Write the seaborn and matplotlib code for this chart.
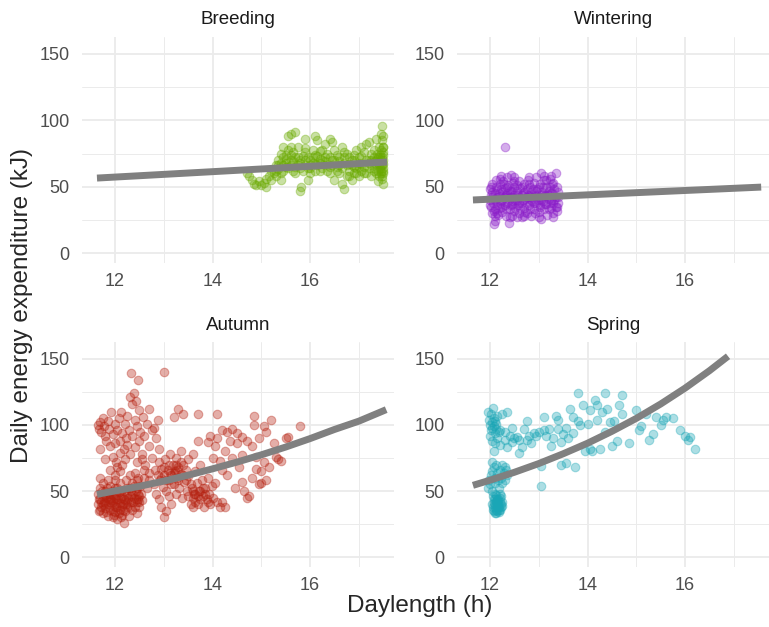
import numpy as np
import pandas as pd
import matplotlib
matplotlib.use("Agg")
import matplotlib.pyplot as plt
from matplotlib.ticker import MultipleLocator
import seaborn as sns

# ---- data ----
seasons = ["Breeding", "Wintering", "Autumn", "Spring"]
season_colors = ["#6AAA00", "#8A1CC8", "#B5200F", "#1AA6B6"]

breeding_pts = [
    (14.7, 60), (14.75, 58), (14.8, 55), (14.85, 52), (14.9, 51), (14.95, 54), (15.0, 51), (15.05, 53),
    (15.1, 50), (15.1, 56), (15.15, 58), (15.2, 62), (15.2, 55), (15.25, 60), (15.3, 66), (15.3, 58),
    (15.35, 70), (15.35, 63), (15.4, 75), (15.4, 68), (15.45, 80), (15.45, 72), (15.5, 74), (15.5, 65),
    (15.55, 88), (15.55, 78), (15.6, 90), (15.6, 70), (15.65, 76), (15.65, 62), (15.7, 91), (15.7, 72),
    (15.75, 80), (15.75, 66), (15.8, 68), (15.8, 47), (15.82, 50), (15.85, 73), (15.9, 79), (15.9, 86),
    (15.95, 64), (15.95, 55), (16.0, 70), (16.0, 60), (16.05, 78), (16.1, 88), (16.1, 67), (16.15, 85),
    (16.15, 73), (16.2, 62), (16.2, 77), (16.25, 70), (16.3, 82), (16.3, 66), (16.35, 75), (16.4, 86),
    (16.4, 60), (16.45, 84), (16.45, 70), (16.5, 78), (16.5, 55), (16.55, 65), (16.6, 72), (16.6, 60),
    (16.65, 80), (16.65, 52), (16.7, 48), (16.7, 68), (16.75, 75), (16.75, 58), (16.8, 62), (16.8, 72),
    (16.85, 55), (16.85, 66), (16.9, 70), (16.9, 60), (16.95, 78), (16.95, 64), (17.0, 68), (17.0, 58),
    (17.05, 73), (17.05, 62), (17.1, 76), (17.1, 65), (17.15, 82), (17.15, 60), (17.2, 70), (17.2, 84),
    (17.25, 66), (17.25, 58), (17.3, 78), (17.3, 72), (17.32, 64), (17.35, 86), (17.35, 60), (17.38, 75),
    (17.4, 68), (17.4, 54), (17.42, 80), (17.44, 72), (17.45, 90), (17.45, 62), (17.46, 70), (17.47, 96),
    (17.47, 58), (17.48, 85), (17.48, 66), (17.49, 76), (17.5, 52), (17.5, 88), (17.5, 70), (17.5, 64),
    (17.49, 80), (17.46, 60), (17.43, 74), (17.41, 67), (17.37, 71), (17.33, 69),
    (15.5, 68), (15.6, 66), (15.8, 64), (16.0, 66), (16.2, 68), (16.4, 65), (16.6, 66), (16.8, 67),
    (17.0, 65), (17.2, 68), (17.4, 72), (15.7, 60), (16.3, 72), (16.9, 74), (16.1, 62), (15.9, 70),
    (16.55, 74), (17.25, 75), (16.05, 72), (15.45, 62),
    (15.3, 62), (15.35, 66), (15.4, 60), (15.45, 66), (15.5, 71), (15.55, 64), (15.6, 74), (15.65, 69),
    (15.7, 65), (15.75, 72), (15.8, 70), (15.85, 62), (15.9, 66), (15.95, 72), (16.0, 64), (16.05, 68),
    (16.1, 74), (16.15, 66), (16.2, 71), (16.25, 64), (16.3, 69), (16.35, 62), (16.4, 72), (16.45, 66),
    (16.5, 70), (16.55, 62), (16.6, 69), (16.65, 64), (16.7, 72), (16.75, 66), (16.8, 58), (16.85, 70),
    (16.9, 65), (16.95, 60), (17.0, 72), (17.05, 67), (17.1, 60), (17.15, 70), (17.2, 64), (17.25, 70),
    (17.3, 62), (17.35, 67), (17.4, 62), (17.45, 66), (17.5, 60), (17.5, 74), (17.5, 80), (17.48, 56),
    (17.47, 72), (17.44, 64), (17.42, 58), (17.5, 67), (17.46, 78), (17.49, 62), (15.6, 80), (15.9, 76),
    (16.25, 78), (16.7, 76), (17.05, 80), (15.4, 55),
]

wintering_pts = [
    (12.0, 48), (12.0, 40), (12.02, 35), (12.03, 44), (12.05, 30), (12.05, 52), (12.07, 38), (12.08, 22),
    (12.1, 45), (12.1, 33), (12.1, 24), (12.12, 55), (12.13, 41), (12.15, 36), (12.15, 48), (12.17, 29),
    (12.2, 52), (12.2, 43), (12.2, 34), (12.22, 58), (12.23, 39), (12.25, 46), (12.25, 31), (12.27, 54),
    (12.28, 42), (12.3, 80), (12.3, 36), (12.3, 49), (12.32, 28), (12.33, 44), (12.35, 57), (12.35, 38),
    (12.37, 51), (12.38, 23), (12.4, 42), (12.4, 33), (12.42, 59), (12.43, 47), (12.45, 37), (12.45, 28),
    (12.47, 53), (12.5, 44), (12.5, 32), (12.5, 50), (12.52, 40), (12.55, 27), (12.55, 47), (12.57, 36),
    (12.6, 54), (12.6, 42), (12.6, 30), (12.62, 49), (12.65, 38), (12.65, 27), (12.67, 45), (12.7, 52),
    (12.7, 34), (12.72, 41), (12.75, 48), (12.75, 30), (12.77, 55), (12.8, 43), (12.8, 36), (12.82, 50),
    (12.85, 28), (12.85, 46), (12.87, 39), (12.9, 53), (12.9, 33), (12.92, 44), (12.95, 57), (12.95, 38),
    (12.97, 48), (13.0, 31), (13.0, 42), (13.02, 52), (13.03, 36), (13.05, 60), (13.05, 26), (13.07, 46),
    (13.08, 39), (13.1, 55), (13.1, 33), (13.12, 44), (13.15, 50), (13.15, 37), (13.17, 29), (13.2, 47),
    (13.2, 41), (13.22, 56), (13.25, 34), (13.25, 45), (13.27, 52), (13.3, 38), (13.3, 30), (13.32, 48),
    (13.35, 60), (13.35, 42), (13.37, 35), (13.4, 46), (13.4, 38), (13.38, 32), (12.15, 42), (12.35, 45),
    (12.55, 40), (12.75, 42), (12.95, 43), (13.15, 43), (12.25, 40), (12.45, 42), (12.65, 44), (12.85, 40),
    (13.05, 44), (13.25, 40), (12.05, 42),
    (12.0, 36), (12.03, 50), (12.05, 46), (12.08, 32), (12.1, 40), (12.12, 50), (12.15, 30), (12.18, 45),
    (12.2, 38), (12.22, 48), (12.25, 35), (12.28, 52), (12.3, 42), (12.32, 33), (12.35, 50), (12.38, 40),
    (12.4, 47), (12.42, 36), (12.45, 46), (12.48, 39), (12.5, 54), (12.52, 34), (12.55, 51), (12.58, 44),
    (12.6, 38), (12.62, 34), (12.65, 50), (12.68, 40), (12.7, 46), (12.72, 31), (12.75, 38), (12.78, 44),
    (12.8, 52), (12.82, 33), (12.85, 42), (12.88, 48), (12.9, 38), (12.92, 30), (12.95, 47), (12.98, 40),
    (13.0, 50), (13.02, 35), (13.05, 40), (13.08, 50), (13.1, 43), (13.12, 37), (13.15, 55), (13.18, 44),
    (13.2, 33), (13.22, 50), (13.25, 38), (13.28, 45), (13.3, 53), (13.32, 40), (13.35, 35), (13.38, 50),
    (13.4, 42), (12.1, 28), (12.4, 27), (12.7, 28), (13.0, 27), (13.3, 27), (12.2, 56), (12.5, 57),
    (12.8, 57), (13.1, 58), (13.25, 58),
]

autumn_pts = [
    # dense low cluster
    (11.65, 40), (11.65, 48), (11.68, 35), (11.7, 44), (11.7, 52), (11.72, 38), (11.75, 46), (11.75, 33),
    (11.78, 42), (11.8, 50), (11.8, 37), (11.82, 45), (11.85, 31), (11.85, 40), (11.88, 48), (11.9, 54),
    (11.9, 36), (11.92, 43), (11.95, 30), (11.95, 47), (11.98, 39), (12.0, 52), (12.0, 34), (12.02, 44),
    (12.05, 29), (12.05, 41), (12.08, 49), (12.1, 36), (12.1, 56), (12.12, 45), (12.15, 32), (12.15, 39),
    (12.18, 26), (12.18, 50), (12.2, 43), (12.2, 35), (12.22, 58), (12.25, 47), (12.25, 38), (12.28, 31),
    (12.3, 62), (12.3, 52), (12.32, 42), (12.35, 36), (12.35, 56), (12.38, 45), (12.4, 64), (12.4, 38),
    (12.42, 50), (12.45, 42), (12.45, 33), (12.48, 60), (12.5, 46), (12.5, 38), (12.52, 54), (12.55, 43),
    (11.75, 56), (11.85, 58), (12.0, 62), (12.1, 65), (11.7, 60), (11.95, 42), (12.05, 38), (12.15, 46),
    (12.25, 42), (12.35, 48), (12.45, 52), (11.8, 41), (11.9, 45), (12.08, 33),
    (11.67, 44), (11.7, 36), (11.73, 50), (11.76, 40), (11.79, 47), (11.82, 34), (11.84, 52), (11.87, 38),
    (11.9, 42), (11.93, 50), (11.96, 35), (11.99, 45), (12.02, 38), (12.04, 52), (12.07, 44), (12.1, 41),
    (12.13, 50), (12.16, 36), (12.19, 44), (12.22, 40), (12.24, 52), (12.27, 45), (12.3, 38), (12.33, 50),
    (12.36, 42), (12.39, 54), (12.42, 44), (12.45, 58), (12.48, 48), (12.5, 42), (12.53, 48), (11.72, 42),
    (11.88, 44), (12.03, 47), (12.17, 40), (12.33, 46), (12.47, 44), (11.83, 48), (11.98, 32), (12.12, 30),
    # upper cloud
    (11.65, 100), (11.68, 97), (11.7, 102), (11.72, 95), (11.75, 105), (11.78, 99), (11.8, 92), (11.82, 88),
    (11.85, 103), (11.88, 97), (11.9, 84), (11.92, 110), (11.95, 93), (11.95, 76), (12.0, 101), (12.0, 86),
    (12.02, 72), (12.05, 96), (12.05, 68), (12.08, 105), (12.1, 88), (12.1, 79), (12.12, 110), (12.15, 94),
    (12.15, 70), (12.18, 82), (12.2, 101), (12.2, 74), (12.22, 90), (12.25, 107), (12.25, 85), (12.28, 96),
    (12.3, 121), (12.3, 78), (12.32, 139), (12.35, 116), (12.35, 92), (12.38, 124), (12.4, 104), (12.4, 83),
    (12.42, 118), (12.45, 99), (12.45, 72), (12.48, 134), (12.5, 111), (12.5, 88), (12.52, 95), (12.55, 78),
    (12.58, 106), (12.6, 92), (12.62, 70), (12.65, 101), (12.7, 112), (12.7, 84), (12.75, 96), (12.75, 75),
    (12.8, 98), (12.85, 90), (12.9, 82), (12.88, 104), (11.8, 74), (11.9, 66), (11.7, 82), (12.0, 58),
    (12.6, 60), (12.65, 52), (12.7, 58), (12.6, 66), (12.55, 74), (12.7, 64),
    # middle cluster
    (12.8, 55), (12.82, 66), (12.85, 48), (12.88, 62), (12.9, 72), (12.9, 44), (12.93, 58), (12.95, 38),
    (12.95, 67), (12.98, 53), (13.0, 30), (13.0, 140), (13.0, 62), (13.02, 74), (13.05, 50), (13.05, 35),
    (13.08, 66), (13.1, 58), (13.1, 46), (13.12, 78), (13.15, 62), (13.15, 40), (13.18, 70), (13.2, 55),
    (13.2, 106), (13.22, 65), (13.25, 48), (13.25, 75), (13.28, 60), (13.3, 112), (13.3, 68), (13.32, 52),
    (13.35, 80), (13.35, 63), (13.38, 45), (13.4, 70), (13.4, 108), (13.42, 57), (13.45, 66), (13.48, 50),
    (13.5, 61), (13.5, 74), (13.55, 55), (13.6, 78), (13.6, 45), (13.65, 65), (13.7, 108), (13.7, 88),
    (13.75, 50), (13.75, 70),
    (13.0, 68), (13.05, 58), (13.1, 70), (13.15, 55), (13.2, 64), (13.25, 70), (13.3, 58), (13.35, 72),
    (13.4, 62), (13.45, 58), (12.95, 60), (13.12, 64), (13.28, 66),
    # cluster near 13.5-14
    (13.5, 46), (13.55, 40), (13.58, 52), (13.6, 38), (13.62, 48), (13.65, 42), (13.68, 56), (13.7, 40),
    (13.72, 50), (13.75, 44), (13.78, 58), (13.8, 46), (13.82, 38), (13.85, 52), (13.88, 44), (13.9, 60),
    (13.92, 48), (13.95, 40), (13.98, 54), (14.0, 45), (14.05, 56), (14.1, 42), (14.15, 38), (14.2, 42),
    (14.25, 38), (13.6, 50), (13.7, 46), (13.8, 52), (13.9, 42), (13.65, 48), (13.85, 48),
    # scattered tail
    (13.9, 87), (13.95, 92), (14.0, 75), (14.05, 84), (14.1, 108), (14.1, 90), (14.15, 73), (14.2, 96),
    (14.2, 66), (14.25, 80), (14.3, 95), (14.3, 62), (14.35, 88), (14.4, 97), (14.4, 75), (14.45, 52),
    (14.5, 86), (14.5, 94), (14.55, 68), (14.6, 77), (14.6, 91), (14.65, 50), (14.7, 88), (14.75, 46),
    (14.8, 84), (14.8, 60), (14.85, 100), (14.9, 76), (14.9, 67), (14.95, 90), (14.85, 107), (15.0, 56),
    (15.0, 65), (15.05, 99), (15.05, 72), (15.1, 58), (15.1, 95), (15.15, 68), (15.2, 104), (15.25, 86),
    (15.3, 76), (15.35, 74), (15.4, 73), (15.5, 90), (15.55, 91), (15.8, 99), (14.7, 45), (14.95, 55),
    (14.6, 57),
]

spring_pts = [
    # dense bottom blob
    (12.05, 40), (12.07, 36), (12.08, 44), (12.1, 38), (12.1, 33), (12.12, 42), (12.13, 47), (12.15, 35),
    (12.15, 40), (12.17, 44), (12.18, 38), (12.2, 42), (12.2, 36), (12.22, 40), (12.23, 46), (12.25, 39),
    (12.12, 36), (12.18, 34), (12.08, 41), (12.14, 43), (12.2, 48), (12.1, 48), (12.16, 38), (12.24, 42),
    (12.06, 38), (12.09, 35), (12.11, 44), (12.14, 39), (12.17, 41), (12.19, 36), (12.21, 45), (12.11, 40),
    (12.15, 44), (12.13, 33), (12.07, 46), (12.23, 38),
    # middle strip
    (11.95, 52), (11.97, 58), (12.0, 55), (12.02, 62), (12.05, 50), (12.05, 72), (12.08, 68), (12.1, 60),
    (12.1, 56), (12.12, 70), (12.15, 64), (12.17, 58), (12.18, 52), (12.2, 66), (12.22, 60), (12.25, 70),
    (12.25, 56), (12.28, 64), (12.3, 68), (12.3, 58), (12.33, 66), (12.35, 62), (12.08, 80), (12.05, 65),
    # upper strip
    (11.95, 110), (11.97, 104), (12.0, 100), (12.0, 92), (12.02, 108), (12.03, 96), (12.05, 102), (12.05, 88),
    (12.07, 113), (12.08, 99), (12.08, 105), (12.1, 94), (12.1, 86), (12.12, 101), (12.13, 97), (12.15, 90),
    (12.15, 107), (12.18, 95), (12.2, 85), (12.05, 98), (12.1, 103),
    # scattered
    (12.2, 96), (12.25, 108), (12.3, 95), (12.3, 89), (12.35, 110), (12.35, 83), (12.4, 92), (12.45, 98),
    (12.45, 87), (12.5, 90), (12.55, 91), (12.6, 79), (12.6, 89), (12.65, 83), (12.7, 97), (12.75, 103),
    (12.75, 89), (12.8, 92), (12.85, 86), (12.9, 94), (12.95, 92), (13.0, 95), (13.05, 69), (13.05, 54),
    (13.1, 96), (13.1, 106), (13.15, 92), (13.2, 97), (13.25, 84), (13.3, 90), (13.35, 107), (13.4, 104),
    (13.4, 97), (13.45, 70), (13.45, 87), (13.5, 93), (13.55, 71), (13.55, 98), (13.6, 90), (13.65, 112),
    (13.7, 106), (13.7, 94), (13.75, 68), (13.8, 124), (13.8, 103), (13.85, 100), (13.9, 115), (13.95, 80),
    (14.0, 101), (14.05, 111), (14.05, 82), (14.1, 80), (14.15, 119), (14.2, 115), (14.2, 104), (14.25, 82),
    (14.3, 110), (14.35, 124), (14.35, 95), (14.4, 112), (14.45, 102), (14.5, 84), (14.55, 103), (14.6, 88),
    (14.65, 115), (14.7, 123), (14.7, 108), (14.85, 86), (15.0, 111), (15.05, 96), (15.1, 99), (15.2, 108),
    (15.25, 89), (15.35, 93), (15.4, 106), (15.5, 100), (15.55, 104), (15.6, 106), (15.75, 105), (15.9, 96),
    (16.0, 92), (16.05, 89), (16.1, 91), (16.2, 82),
]

# fitted curves (read at a few daylengths)
breeding_fit_x = [11.63, 17.58]
breeding_fit_y = [56.5, 68.6]
wintering_fit_x = [11.65, 17.56]
wintering_fit_y = [40.0, 49.7]
autumn_fit_x = [11.63, 12.0, 12.5, 13.0, 13.5, 14.0, 14.5, 15.0, 15.5, 16.0, 16.5, 17.0, 17.56]
autumn_fit_y = [47.5, 50.1, 53.6, 57.5, 62.0, 66.8, 71.9, 77.4, 83.3, 89.7, 96.6, 102.9, 111.6]
spring_fit_x = [11.65, 12.0, 12.5, 13.0, 13.5, 14.0, 14.5, 15.0, 15.5, 16.0, 16.5, 16.88]
spring_fit_y = [54.3, 58.2, 64.2, 70.8, 78.2, 86.2, 95.2, 105.0, 115.9, 127.9, 141.1, 152.0]

points = {"Breeding": breeding_pts, "Wintering": wintering_pts,
          "Autumn": autumn_pts, "Spring": spring_pts}
fits = {"Breeding": (breeding_fit_x, breeding_fit_y),
        "Wintering": (wintering_fit_x, wintering_fit_y),
        "Autumn": (autumn_fit_x, autumn_fit_y),
        "Spring": (spring_fit_x, spring_fit_y)}

sns.set_theme(style="white")
plt.rcParams['font.family'] = ['Liberation Sans', 'DejaVu Sans']

fig = plt.figure(figsize=(7.69, 6.27), dpi=100)
W, H = 769, 627
# panel boxes in pixels: (left, top, width, height)
boxes = [(82, 37, 312, 226), (457, 37, 312, 226),
         (82, 342, 312, 225), (457, 342, 312, 225)]

for season, color, (l, t, w, h) in zip(seasons, season_colors, boxes):
    ax = fig.add_axes([l / W, 1 - (t + h) / H, w / W, h / H])
    pts = pd.DataFrame(points[season], columns=["daylength", "dee"])
    sns.scatterplot(data=pts, x="daylength", y="dee", ax=ax, color=color,
                    alpha=0.36, s=38, edgecolor=color, linewidth=0.8, zorder=3)
    fx, fy = fits[season]
    sns.lineplot(x=fx, y=fy, ax=ax, color="#808080", linewidth=5,
                 solid_joinstyle="round", solid_capstyle="butt", zorder=4)

    ax.set_xlim(11.323, 17.72)
    ax.set_ylim(-7.5, 162.8)
    ax.xaxis.set_major_locator(MultipleLocator(2))
    ax.xaxis.set_minor_locator(MultipleLocator(1))
    ax.yaxis.set_major_locator(MultipleLocator(50))
    ax.yaxis.set_minor_locator(MultipleLocator(25))
    ax.grid(which="major", color="#EBEBEB", linewidth=1.3)
    ax.grid(which="minor", color="#EBEBEB", linewidth=0.7)
    ax.set_axisbelow(True)
    for s in ax.spines.values():
        s.set_visible(False)
    ax.tick_params(which="both", length=0)
    ax.tick_params(axis="y", pad=9, labelsize=13, labelcolor="#4D4D4D")
    ax.tick_params(axis="x", pad=7, labelsize=13, labelcolor="#4D4D4D")
    ax.set_xlabel("")
    ax.set_ylabel("")
    ax.set_title(season, fontsize=13.5, color="#1A1A1A", pad=9)

fig.text(420 / W, 1 - 606 / H, "Daylength (h)", ha="center", va="center", fontsize=17.5)
fig.text(22 / W, 1 - 305 / H, "Daily energy expenditure (kJ)", ha="center", va="center",
         rotation=90, fontsize=17.5)

fig.savefig("out.png", dpi=100, facecolor="white")
